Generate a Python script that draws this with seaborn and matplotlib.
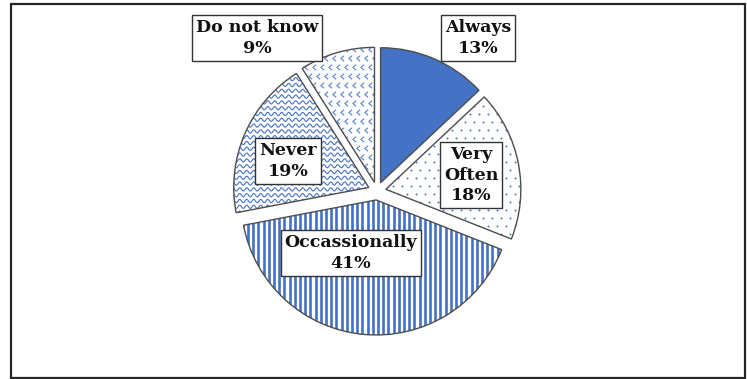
import numpy as np
import matplotlib
matplotlib.use("Agg")
import matplotlib.pyplot as plt
from matplotlib.patches import Rectangle, Wedge
from matplotlib.collections import LineCollection
from matplotlib.path import Path
import seaborn as sns

# Survey answers and their shares (%)
categories = ["Always", "Very Often", "Occassionally", "Never", "Do not know"]
shares = [13, 18, 41, 19, 9]
box_labels = ["Always", "Very\nOften", "Occassionally", "Never", "Do not know"]

sns.set_theme(style="white")
plt.rcParams["font.family"] = ["DejaVu Serif"]

W, H = 747, 379
fig = plt.figure(figsize=(W / 100, H / 100), dpi=100)
ax = fig.add_axes([0, 0, 1, 1])

blue = "#4472C4"
edge = "#4d4d4d"
center = (377, H - 191)
radius = 135

wedges, _ = ax.pie(
    shares,
    startangle=90,
    counterclock=False,
    center=center,
    radius=radius,
    explode=[9] * len(shares),
    colors=[blue, "white", "white", "white", "white"],
    wedgeprops=dict(edgecolor="none", linewidth=0),
)
ax.set_xlim(0, W)
ax.set_ylim(0, H)
ax.set_aspect("equal")
ax.axis("off")

# --- fill textures, clipped to their wedges ---
x0, x1 = center[0] - radius - 20, center[0] + radius + 20
y0, y1 = center[1] - radius - 20, center[1] + radius + 20

# Very Often: staggered dots
xs, ys = [], []
for i, yy in enumerate(np.arange(y0, y1, 8)):
    off = 4.5 if i % 2 else 0
    for xx in np.arange(x0 + off, x1, 9):
        xs.append(xx)
        ys.append(yy)
dots, = ax.plot(xs, ys, ls="none", marker="o", ms=1.4, color=blue, mec="none", zorder=2)
dots.set_clip_path(wedges[1])

# Occassionally: vertical stripes
segs = [[(xx, y0), (xx, y1)] for xx in np.arange(x0, x1, 5.2)]
stripes = LineCollection(segs, colors=blue, linewidths=1.9, zorder=2)
ax.add_collection(stripes)
stripes.set_clip_path(wedges[2])

# Never: wavy lines
xx = np.linspace(x0, x1, 1200)
segs = [np.column_stack([xx, yb + 1.6 * np.sin(2 * np.pi * xx / 7.0)])
        for yb in np.arange(y0, y1, 5.8)]
waves = LineCollection(segs, colors=blue, linewidths=0.8, zorder=2)
ax.add_collection(waves)
waves.set_clip_path(wedges[3])

# Do not know: small chevrons
chevron = Path([(0.6, 1.0), (-0.6, 0.0), (0.6, -1.0)],
               [Path.MOVETO, Path.LINETO, Path.LINETO])
xs, ys = [], []
for i, yy in enumerate(np.arange(y0, y1, 9)):
    off = 4 if i % 2 else 0
    for xv in np.arange(x0 + off, x1, 8):
        xs.append(xv)
        ys.append(yy)
chev, = ax.plot(xs, ys, ls="none", marker=chevron, ms=4.0, mfc="none",
                mec=blue, mew=0.7, zorder=2)
chev.set_clip_path(wedges[4])

# wedge outlines on top of the textures
for w in wedges:
    ax.add_patch(Wedge(w.center, w.r, w.theta1, w.theta2, fill=False,
                       ec=edge, lw=1.0, zorder=3))

# --- boxed labels ---
label_pos = [(478, H - 38), (471, H - 175), (351, H - 253), (288, H - 161), (257, H - 38)]
for (lx, ly), name, share in zip(label_pos, box_labels, shares):
    ax.text(lx, ly, f"{name}\n{share}%", ha="center", va="center",
            fontsize=12.5, fontweight="bold", color="#111111", linespacing=1.3,
            zorder=5,
            bbox=dict(boxstyle="square,pad=0.22", fc="white", ec="#333333", lw=1.0))

# outer frame
ax.add_patch(Rectangle((11, 1), 734, 374, fill=False, ec="#262626", lw=1.6, zorder=6))

fig.savefig("out.png", dpi=100, facecolor="white")
